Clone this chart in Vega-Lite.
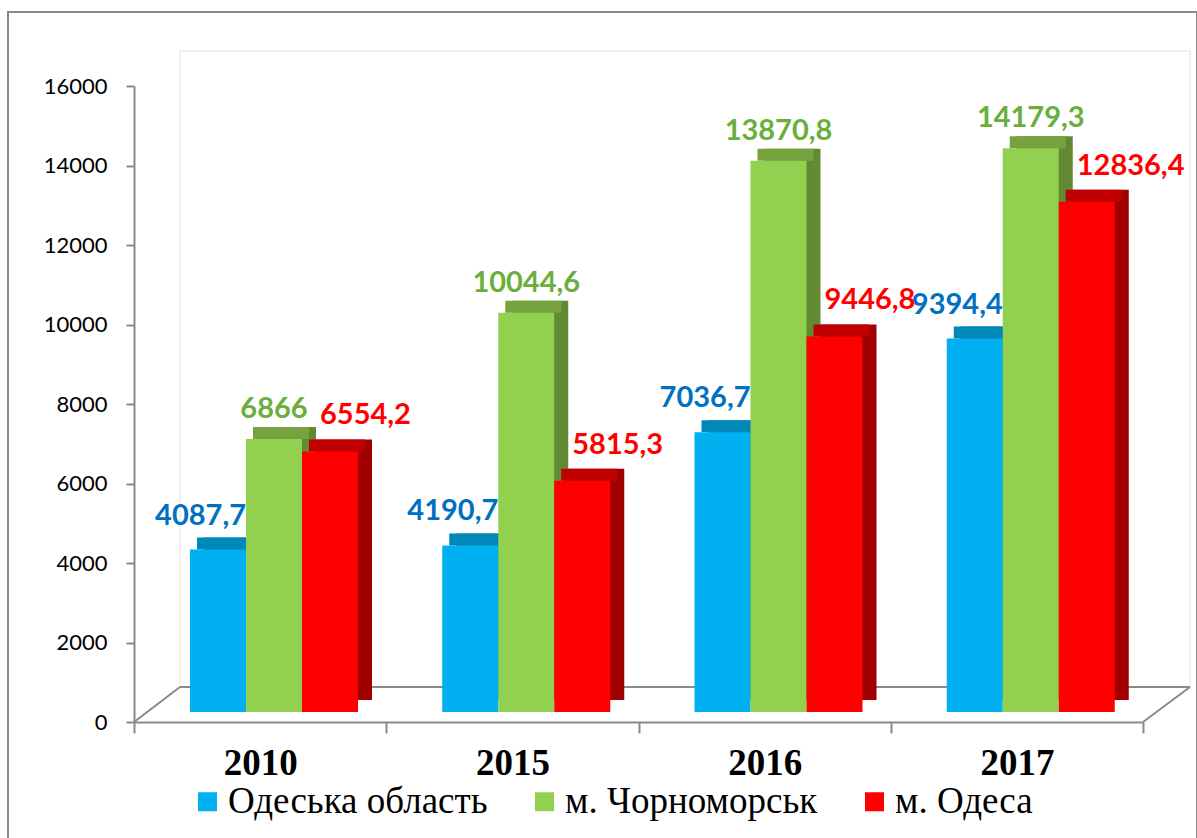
{
  "$schema": "https://vega.github.io/schema/vega-lite/v6.json",
  "width": 1189,
  "height": 838,
  "autosize": {"type": "none"},
  "padding": {"left": 8, "top": 12, "right": 0, "bottom": 0},
  "background": "white",
  "data": {"values": [
    {"year": "2010", "series": "Одеська область", "value": 4087.7},
    {"year": "2010", "series": "м. Чорноморськ", "value": 6866},
    {"year": "2010", "series": "м. Одеса", "value": 6554.2},
    {"year": "2015", "series": "Одеська область", "value": 4190.7},
    {"year": "2015", "series": "м. Чорноморськ", "value": 10044.6},
    {"year": "2015", "series": "м. Одеса", "value": 5815.3},
    {"year": "2016", "series": "Одеська область", "value": 7036.7},
    {"year": "2016", "series": "м. Чорноморськ", "value": 13870.8},
    {"year": "2016", "series": "м. Одеса", "value": 9446.8},
    {"year": "2017", "series": "Одеська область", "value": 9394.4},
    {"year": "2017", "series": "м. Чорноморськ", "value": 14179.3},
    {"year": "2017", "series": "м. Одеса", "value": 12836.4}
  ]},
  "config": {
    "locale": {"number": {"decimal": ",", "thousands": " ", "grouping": [3], "currency": ["", ""]}},
    "view": {"stroke": "#8a8a8a", "strokeWidth": 2},
    "axisY": {"offset": -126, "domainColor": "#8a8a8a", "domainWidth": 2, "tickColor": "#8a8a8a", "tickWidth": 2, "tickSize": 8, "labelFont": "Lato", "labelFontSize": 22, "labelColor": "#000000", "labelPadding": 19, "grid": false},
    "axisX": {"offset": -128, "domainColor": "#8a8a8a", "domainWidth": 2, "tickColor": "#8a8a8a", "tickWidth": 2, "tickSize": 11, "labelFont": "Liberation Serif", "labelFontWeight": "bold", "labelFontSize": 37, "labelColor": "#000000", "labelPadding": 12, "labelAngle": 0, "grid": false}
  },
  "layer": [
    {
      "data": {"values": [{"k": 1}]},
      "mark": {"type": "rect", "fillOpacity": 0, "stroke": "#ececec", "strokeWidth": 1.5, "xOffset": 46, "x2Offset": 47, "yOffset": -35, "y2Offset": -35},
      "encoding": {
        "x": {"datum": "2010", "bandPosition": 0, "type": "nominal", "title": null},
        "x2": {"datum": "2017", "bandPosition": 1},
        "y": {"datum": 0, "type": "quantitative", "title": null},
        "y2": {"datum": 16000}
      }
    },
    {
      "data": {"values": [{"k": 1}]},
      "mark": {"type": "rule", "color": "#8a8a8a", "strokeWidth": 2, "xOffset": 46, "x2Offset": 47, "yOffset": -35},
      "encoding": {
        "x": {"datum": "2010", "bandPosition": 0, "type": "nominal", "title": null},
        "x2": {"datum": "2017", "bandPosition": 1},
        "y": {"datum": 0, "type": "quantitative", "title": null}
      }
    },
    {
      "data": {"values": [{"k": 1}]},
      "mark": {"type": "rule", "color": "#8a8a8a", "strokeWidth": 2, "x2Offset": 46, "y2Offset": -35},
      "encoding": {
        "x": {"datum": "2010", "bandPosition": 0, "type": "nominal", "title": null},
        "x2": {"datum": "2010", "bandPosition": 0},
        "y": {"datum": 0, "type": "quantitative", "title": null},
        "y2": {"datum": 0}
      }
    },
    {
      "data": {"values": [{"k": 1}]},
      "mark": {"type": "rule", "color": "#8a8a8a", "strokeWidth": 2, "x2Offset": 47, "y2Offset": -35},
      "encoding": {
        "x": {"datum": "2017", "bandPosition": 1, "type": "nominal", "title": null},
        "x2": {"datum": "2017", "bandPosition": 1},
        "y": {"datum": 0, "type": "quantitative", "title": null},
        "y2": {"datum": 0}
      }
    },
    {
      "mark": {"type": "bar", "yOffset": -22, "y2Offset": -22},
      "encoding": {
        "x": {"field": "year", "type": "nominal", "title": null},
        "xOffset": {"field": "series", "type": "nominal", "scale": {"domain": ["Одеська область", "м. Чорноморськ", "м. Одеса"], "range": [70, 238], "paddingInner": 0, "paddingOuter": 0}},
        "y": {"field": "value", "type": "quantitative", "title": null},
        "color": {"field": "series", "type": "nominal", "legend": null, "scale": {"domain": ["Одеська область", "м. Чорноморськ", "м. Одеса"], "range": ["#007aa8", "#618a33", "#a00000"]}}
      }
    },
    {
      "mark": {"type": "bar", "yOffset": -10, "y2Offset": -22},
      "encoding": {
        "x": {"field": "year", "type": "nominal", "title": null},
        "xOffset": {"field": "series", "type": "nominal", "scale": {"domain": ["Одеська область", "м. Чорноморськ", "м. Одеса"], "range": [63, 231], "paddingInner": 0, "paddingOuter": 0}},
        "y": {"field": "value", "type": "quantitative", "title": null},
        "y2": {"field": "value"},
        "color": {"field": "series", "type": "nominal", "legend": null, "scale": {"domain": ["Одеська область", "м. Чорноморськ", "м. Одеса"], "range": ["#0088b8", "#77a33f", "#c00000"]}}
      }
    },
    {
      "mark": {"type": "bar", "yOffset": -10, "y2Offset": -10},
      "encoding": {
        "x": {"field": "year", "type": "nominal", "title": null,
              "scale": {"range": [126, 1135], "paddingInner": 0, "paddingOuter": 0},
              "axis": {"tickBand": "extent"}},
        "xOffset": {"field": "series", "type": "nominal", "scale": {"domain": ["Одеська область", "м. Чорноморськ", "м. Одеса"], "range": [56, 224], "paddingInner": 0, "paddingOuter": 0}},
        "y": {"field": "value", "type": "quantitative", "title": null,
              "scale": {"domain": [0, 16000], "range": [710, 74], "nice": false},
              "axis": {"values": [0, 2000, 4000, 6000, 8000, 10000, 12000, 14000, 16000], "format": "d"}},
        "color": {"field": "series", "type": "nominal",
                  "scale": {"domain": ["Одеська область", "м. Чорноморськ", "м. Одеса"], "range": ["#00b0f0", "#92d050", "#ff0000"]},
                  "legend": {"orient": "none", "legendX": 181, "legendY": 771, "direction": "horizontal", "title": null,
                             "symbolType": "square", "symbolSize": 361, "symbolStrokeWidth": 0, "symbolOpacity": 1,
                             "labelFont": "Liberation Serif", "labelFontSize": 37, "labelColor": "#000000", "labelLimit": 0,
                             "labelOffset": 2, "columnPadding": 38, "padding": 0}}
      }
    },
    {
      "transform": [{"filter": "datum.series === 'Одеська область'"}],
      "mark": {"type": "text", "align": "right", "baseline": "alphabetic", "dx": 28, "dy": -35, "font": "Lato", "fontWeight": "bold", "fontSize": 29, "color": "#0070c0"},
      "encoding": {
        "x": {"field": "year", "type": "nominal", "title": null},
        "xOffset": {"field": "series", "type": "nominal", "scale": {"type": "band", "domain": ["Одеська область", "м. Чорноморськ", "м. Одеса"], "range": [56, 224], "paddingInner": 0, "paddingOuter": 0}},
        "y": {"field": "value", "type": "quantitative", "title": null},
        "text": {"field": "value", "type": "quantitative", "format": "~f"}
      }
    },
    {
      "transform": [{"filter": "datum.series === 'м. Чорноморськ'"}],
      "mark": {"type": "text", "align": "center", "baseline": "alphabetic", "dx": 0, "dy": -31, "font": "Lato", "fontWeight": "bold", "fontSize": 29, "color": "#6aae3c"},
      "encoding": {
        "x": {"field": "year", "type": "nominal", "title": null},
        "xOffset": {"field": "series", "type": "nominal", "scale": {"type": "band", "domain": ["Одеська область", "м. Чорноморськ", "м. Одеса"], "range": [56, 224], "paddingInner": 0, "paddingOuter": 0}},
        "y": {"field": "value", "type": "quantitative", "title": null},
        "text": {"field": "value", "type": "quantitative", "format": "~f"}
      }
    },
    {
      "transform": [{"filter": "datum.series === 'м. Одеса'"}],
      "mark": {"type": "text", "align": "left", "baseline": "alphabetic", "dx": -10, "dy": -37, "font": "Lato", "fontWeight": "bold", "fontSize": 29, "color": "#ff0000"},
      "encoding": {
        "x": {"field": "year", "type": "nominal", "title": null},
        "xOffset": {"field": "series", "type": "nominal", "scale": {"type": "band", "domain": ["Одеська область", "м. Чорноморськ", "м. Одеса"], "range": [56, 224], "paddingInner": 0, "paddingOuter": 0}},
        "y": {"field": "value", "type": "quantitative", "title": null},
        "text": {"field": "value", "type": "quantitative", "format": "~f"}
      }
    }
  ],
  "resolve": {"scale": {"color": "independent", "xOffset": "independent"}}
}
